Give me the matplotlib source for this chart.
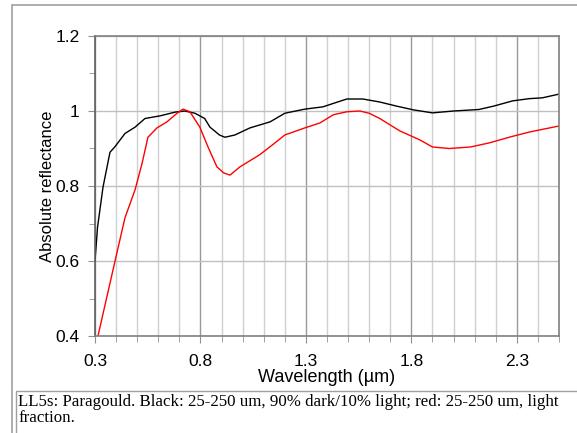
import matplotlib.pyplot as plt
from matplotlib.patches import Rectangle
from matplotlib.ticker import MultipleLocator

# black: 25-250 um, 90% dark / 10% light
wl_black = [0.300, 0.312, 0.338, 0.371, 0.395, 0.442, 0.490, 0.537, 0.608, 0.680,
            0.726, 0.774, 0.820, 0.845, 0.890, 0.916, 0.963, 1.035, 1.130, 1.200,
            1.295, 1.380, 1.494, 1.570, 1.650, 1.730, 1.810, 1.900, 2.000, 2.120,
            2.190, 2.280, 2.360, 2.420, 2.500]
r_black = [0.600, 0.690, 0.797, 0.890, 0.905, 0.940, 0.957, 0.980, 0.987, 0.997,
           1.000, 0.994, 0.980, 0.957, 0.936, 0.930, 0.936, 0.955, 0.971, 0.994,
           1.005, 1.011, 1.032, 1.032, 1.024, 1.013, 1.003, 0.995, 1.000, 1.004,
           1.013, 1.027, 1.033, 1.035, 1.045]

# red: 25-250 um, light fraction
wl_red = [0.314, 0.395, 0.442, 0.490, 0.523, 0.551, 0.594, 0.641, 0.689, 0.717,
          0.750, 0.797, 0.836, 0.878, 0.910, 0.940, 0.987, 1.080, 1.140, 1.200,
          1.295, 1.366, 1.430, 1.494, 1.556, 1.600, 1.650, 1.745, 1.840, 1.900,
          1.980, 2.080, 2.170, 2.270, 2.360, 2.500]
r_red = [0.400, 0.600, 0.715, 0.790, 0.860, 0.930, 0.955, 0.971, 0.994, 1.005,
         0.998, 0.957, 0.904, 0.851, 0.835, 0.829, 0.851, 0.883, 0.909, 0.936,
         0.955, 0.968, 0.990, 0.998, 1.000, 0.994, 0.980, 0.947, 0.923, 0.904,
         0.900, 0.904, 0.915, 0.931, 0.944, 0.960]

caption = ("LL5s: Paragould. Black: 25-250 um, 90% dark/10% light; red: 25-250 um, light\n"
           "fraction.")

fig = plt.figure(figsize=(5.77, 4.33), dpi=100)

# outer frame and caption box
fig.patches.append(Rectangle((12 / 577, -0.1), 1.1, 1 - 5 / 433 + 0.1, transform=fig.transFigure,
                             fill=False, edgecolor='#a0a0a0', linewidth=1.2))
fig.patches.append(Rectangle((16 / 577, -0.1), 1.1, 1 - 391 / 433 + 0.1, transform=fig.transFigure,
                             fill=False, edgecolor='#a0a0a0', linewidth=1.0))
fig.text(18 / 577, 1 - 394 / 433, caption, family='Liberation Serif', fontsize=12.2,
         va='top', ha='left', linespacing=1.0)

ax = fig.add_axes([95 / 577, 1 - 336 / 433, (559 - 95) / 577, (336 - 36) / 433])
ax.plot(wl_black, r_black, color='black', linewidth=1.0)
ax.plot(wl_red, r_red, color='#ff0000', linewidth=1.0)

ax.set_xlim(0.3, 2.5)
ax.set_ylim(0.4, 1.2)
ax.xaxis.set_minor_locator(MultipleLocator(0.1))
ax.yaxis.set_minor_locator(MultipleLocator(0.1))
ax.set_xticks([0.3, 0.8, 1.3, 1.8, 2.3])
ax.set_xticklabels(['0.3', '0.8', '1.3', '1.8', '2.3'])
ax.set_yticks([0.4, 0.6, 0.8, 1.0, 1.2])
ax.set_yticklabels(['0.4', '0.6', '0.8', '1', '1.2'])

ax.grid(which='major', axis='x', color='#999999', linewidth=1.0)
ax.grid(which='minor', axis='x', color='#d0d0d0', linewidth=1.0)
ax.grid(which='major', axis='y', color='#c0c0c0', linewidth=1.0)
ax.set_axisbelow(True)

for s in ax.spines.values():
    s.set_color('#808080')
    s.set_linewidth(1.2)
ax.spines['left'].set_color('#606060')

ax.tick_params(which='both', direction='out', color='#909090', labelsize=12.5,
               labelfontfamily='Liberation Sans')
ax.tick_params(which='major', length=5)
ax.tick_params(which='minor', length=4)
ax.tick_params(axis='x', which='major', pad=8)
ax.tick_params(axis='y', which='major', pad=6)
ax.set_xlabel('Wavelength (µm)', family='Liberation Sans', fontsize=13, labelpad=0)
ax.set_ylabel('Absolute reflectance', family='Liberation Sans', fontsize=12, labelpad=0)

fig.savefig('out.png', dpi=100)
